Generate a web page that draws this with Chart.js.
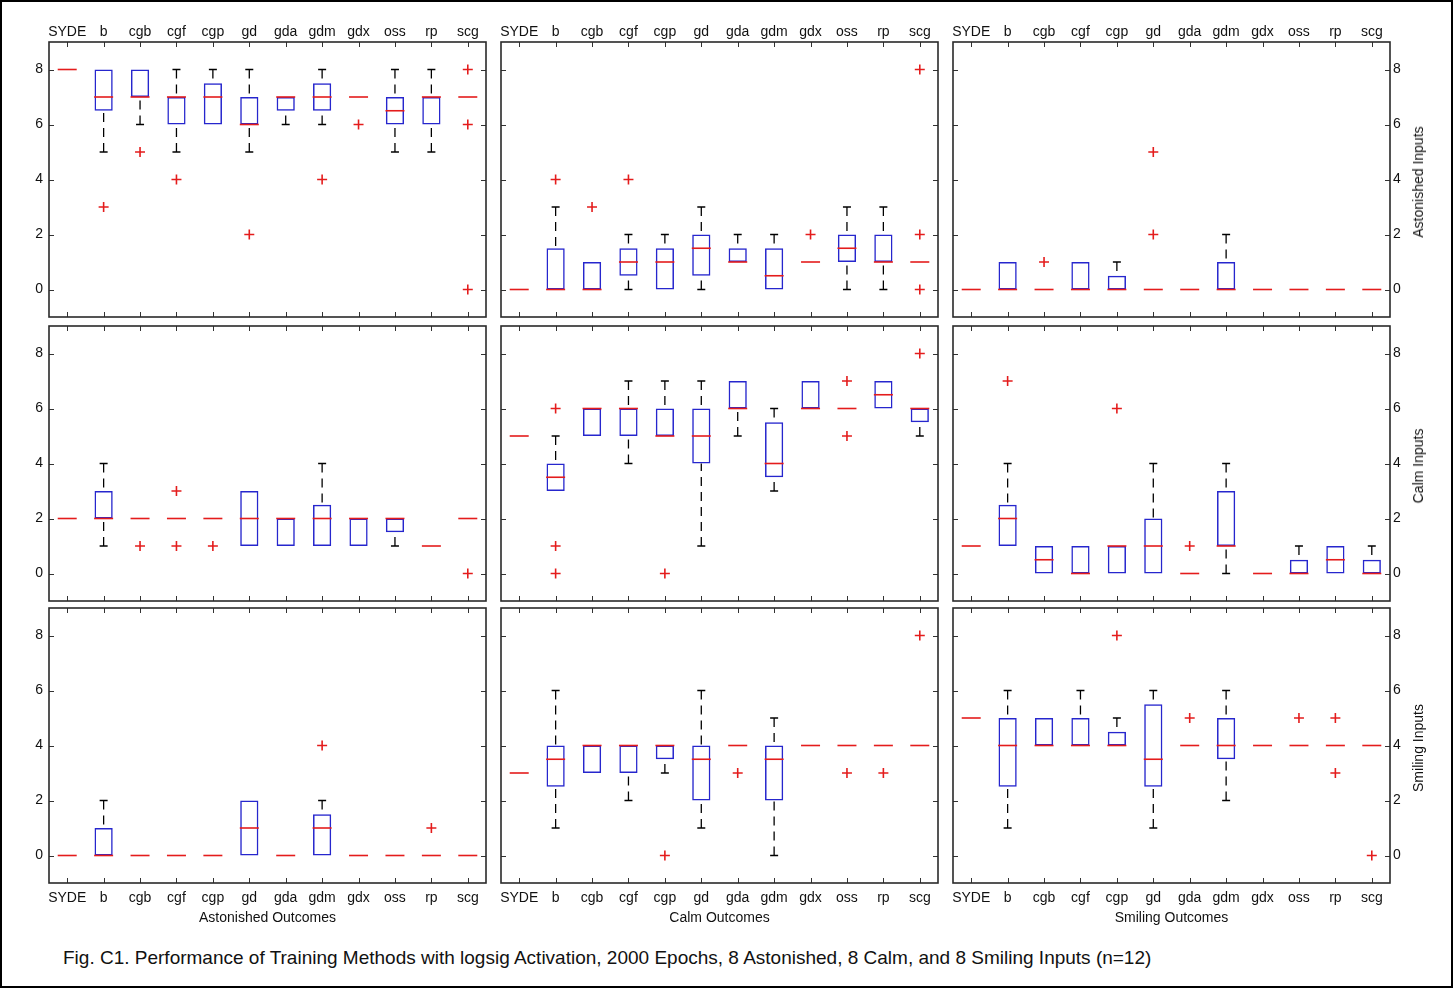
<!DOCTYPE html>
<html>
<head>
<meta charset="utf-8">
<script src="https://cdn.jsdelivr.net/npm/chart.js@4.4.1/dist/chart.umd.min.js"></script>
<style>
  html, body { margin: 0; padding: 0; background: #fff; }
  #fig { position: relative; width: 1453px; height: 988px; overflow: hidden; background: #fff;
         font-family: "Liberation Sans", Arial, sans-serif; }
  #frame { position: absolute; left: 0; top: 0; width: 1453px; height: 988px; box-sizing: border-box;
           border: 2px solid #000; pointer-events: none; }
  canvas { position: absolute; }
  .ytitle { position: absolute; transform: translate(-50%, -50%) rotate(-90deg); white-space: nowrap;
            font-size: 14px; color: #111; }
  #caption { position: absolute; left: 63px; top: 947px; font-size: 19px; color: #111; white-space: nowrap; }
</style>
</head>
<body>
<div id="fig">
  <div id="caption">Fig. C1. Performance of Training Methods with logsig Activation, 2000 Epochs, 8 Astonished, 8 Calm, and 8 Smiling Inputs (n=12)</div>
  <div id="frame"></div>
</div>
<script>
// training methods (x categories) and y tick values
const methods = ['SYDE', 'b', 'cgb', 'cgf', 'cgp', 'gd', 'gda', 'gdm', 'gdx', 'oss', 'rp', 'scg'];
const yTicks = [0, 2, 4, 6, 8];
const inputNames = ['Astonished Inputs', 'Calm Inputs', 'Smiling Inputs'];
const outcomeNames = ['Astonished Outcomes', 'Calm Outcomes', 'Smiling Outcomes'];

// box stats per method: [lower whisker, q1, median, q3, upper whisker]
// row 1 - astonished inputs
const astAstBox = [[8,8,8,8,8],[5,6.5,7,8,8],[6,7,7,8,8],[5,6,7,7,8],[6,6,7,7.5,8],[5,6,6,7,8],
                   [6,6.5,7,7,7],[6,6.5,7,7.5,8],[7,7,7,7,7],[5,6,6.5,7,8],[5,6,7,7,8],[7,7,7,7,7]];
const astAstOut = [[],[3],[5],[4],[],[2],[],[4],[6],[],[],[8,6,0]];
const astCalmBox = [[0,0,0,0,0],[0,0,0,1.5,3],[0,0,0,1,1],[0,0.5,1,1.5,2],[0,0,1,1.5,2],[0,0.5,1.5,2,3],
                    [1,1,1,1.5,2],[0,0,0.5,1.5,2],[1,1,1,1,1],[0,1,1.5,2,3],[0,1,1,2,3],[1,1,1,1,1]];
const astCalmOut = [[],[4],[3],[4],[],[],[],[],[2],[],[],[8,2,0]];
const astSmileBox = [[0,0,0,0,0],[0,0,0,1,1],[0,0,0,0,0],[0,0,0,1,1],[0,0,0,0.5,1],[0,0,0,0,0],
                     [0,0,0,0,0],[0,0,0,1,2],[0,0,0,0,0],[0,0,0,0,0],[0,0,0,0,0],[0,0,0,0,0]];
const astSmileOut = [[],[],[1],[],[],[5,2],[],[],[],[],[],[]];

// row 2 - calm inputs
const calmAstBox = [[2,2,2,2,2],[1,2,2,3,4],[2,2,2,2,2],[2,2,2,2,2],[2,2,2,2,2],[1,1,2,3,3],
                    [1,1,2,2,2],[1,1,2,2.5,4],[1,1,2,2,2],[1,1.5,2,2,2],[1,1,1,1,1],[2,2,2,2,2]];
const calmAstOut = [[],[],[1],[3,1],[1],[],[],[],[],[],[],[0]];
const calmCalmBox = [[5,5,5,5,5],[3,3,3.5,4,5],[5,5,6,6,6],[4,5,6,6,7],[5,5,5,6,7],[1,4,5,6,7],
                     [5,6,6,7,7],[3,3.5,4,5.5,6],[6,6,6,7,7],[6,6,6,6,6],[6,6,6.5,7,7],[5,5.5,6,6,6]];
const calmCalmOut = [[],[6,1,0],[],[],[0],[],[],[],[],[7,5],[],[8]];
const calmSmileBox = [[1,1,1,1,1],[1,1,2,2.5,4],[0,0,0.5,1,1],[0,0,0,1,1],[0,0,1,1,1],[0,0,1,2,4],
                      [0,0,0,0,0],[0,1,1,3,4],[0,0,0,0,0],[0,0,0,0.5,1],[0,0,0.5,1,1],[0,0,0,0.5,1]];
const calmSmileOut = [[],[7],[],[],[6],[],[1],[],[],[],[],[]];

// row 3 - smiling inputs
const smileAstBox = [[0,0,0,0,0],[0,0,0,1,2],[0,0,0,0,0],[0,0,0,0,0],[0,0,0,0,0],[0,0,1,2,2],
                     [0,0,0,0,0],[0,0,1,1.5,2],[0,0,0,0,0],[0,0,0,0,0],[0,0,0,0,0],[0,0,0,0,0]];
const smileAstOut = [[],[],[],[],[],[],[],[4],[],[],[1],[]];
const smileCalmBox = [[3,3,3,3,3],[1,2.5,3.5,4,6],[3,3,4,4,4],[2,3,4,4,4],[3,3.5,4,4,4],[1,2,3.5,4,6],
                      [4,4,4,4,4],[0,2,3.5,4,5],[4,4,4,4,4],[4,4,4,4,4],[4,4,4,4,4],[4,4,4,4,4]];
const smileCalmOut = [[],[],[],[],[0],[],[3],[],[],[3],[3],[8]];
const smileSmileBox = [[5,5,5,5,5],[1,2.5,4,5,6],[4,4,4,5,5],[4,4,4,5,6],[4,4,4,4.5,5],[1,2.5,3.5,5.5,6],
                       [4,4,4,4,4],[2,3.5,4,5,6],[4,4,4,4,4],[4,4,4,4,4],[4,4,4,4,4],[4,4,4,4,4]];
const smileSmileOut = [[],[],[],[],[8],[],[5],[],[],[5],[5,3],[0]];

const panels = [
  [[astAstBox, astAstOut], [astCalmBox, astCalmOut], [astSmileBox, astSmileOut]],
  [[calmAstBox, calmAstOut], [calmCalmBox, calmCalmOut], [calmSmileBox, calmSmileOut]],
  [[smileAstBox, smileAstOut], [smileCalmBox, smileCalmOut], [smileSmileBox, smileSmileOut]]
];

// layout
const colX = [49, 501, 953];
const rowY = [42, 326, 608];
const plotW = 437, plotH = 275, pad = 50;
const FONT = '"Liberation Sans", Arial, sans-serif';
const BLUE = 'rgb(38,38,205)', RED = 'rgb(228,28,28)', INK = '#111';

const fig = document.getElementById('fig');

// MATLAB style frame with inward ticks
const frameTicks = {
  id: 'frameTicks',
  afterDatasetsDraw(chart) {
    const ctx = chart.ctx, a = chart.chartArea, x = chart.scales.x, y = chart.scales.y;
    ctx.save();
    ctx.strokeStyle = '#333';
    ctx.lineWidth = 1;
    ctx.beginPath();
    methods.forEach((m, i) => {
      const px = Math.round(x.getPixelForTick(i)) + 0.5;
      ctx.moveTo(px, a.top); ctx.lineTo(px, a.top + 5);
      ctx.moveTo(px, a.bottom); ctx.lineTo(px, a.bottom - 5);
    });
    yTicks.forEach(v => {
      const py = Math.round(y.getPixelForValue(v)) + 0.5;
      ctx.moveTo(a.left, py); ctx.lineTo(a.left + 5, py);
      ctx.moveTo(a.right, py); ctx.lineTo(a.right - 5, py);
    });
    ctx.stroke();
    ctx.lineWidth = 1.6;
    ctx.strokeStyle = '#2a2a2a';
    ctx.strokeRect(a.left, a.top, a.right - a.left, a.bottom - a.top);
    ctx.restore();
  }
};

function makePanel(row, col) {
  const box = panels[row][col][0];
  const outl = panels[row][col][1];
  const showLeft = col === 0, showRight = col === 2, showTop = row === 0, showBot = row === 2;
  const yLeftW = 36, yRightW = 22, xTopH = 26, xBotH = 44;

  const cv = document.createElement('canvas');
  cv.width = plotW + 2 * pad;
  cv.height = plotH + 2 * pad;
  cv.style.left = (colX[col] - pad) + 'px';
  cv.style.top = (rowY[row] - pad) + 'px';
  fig.insertBefore(cv, document.getElementById('frame'));

  const boxes = box.map(s => s[3] > s[1] ? [s[1], s[3]] : null);
  const medians = box.map(s => s[2]);
  const hiCaps = box.map(s => s[4] > s[3] ? s[4] : null);
  const loCaps = box.map(s => s[0] < s[1] ? s[0] : null);
  const whisk = [];
  box.forEach((s, i) => {
    const c = methods[i];
    if (s[4] > s[3]) whisk.push({x: c, y: s[4]}, {x: c, y: s[3]}, {x: c, y: null});
    if (s[0] < s[1]) whisk.push({x: c, y: s[0]}, {x: c, y: s[1]}, {x: c, y: null});
  });
  const outPts = [];
  outl.forEach((arr, i) => arr.forEach(v => outPts.push({x: methods[i], y: v})));

  new Chart(cv.getContext('2d'), {
    type: 'bar',
    data: {
      labels: methods,
      datasets: [
        { type: 'line', data: medians, showLine: false, pointStyle: 'line', pointRadius: 9.5,
          pointBorderColor: RED, pointBorderWidth: 1.6, order: 0 },
        { type: 'line', data: outPts, showLine: false, pointStyle: 'cross', pointRadius: 5,
          pointBorderColor: RED, pointBorderWidth: 1.6, order: 1 },
        { type: 'line', data: hiCaps, showLine: false, pointStyle: 'line', pointRadius: 4,
          pointBorderColor: '#000', pointBorderWidth: 1.6, order: 2 },
        { type: 'line', data: loCaps, showLine: false, pointStyle: 'line', pointRadius: 4,
          pointBorderColor: '#000', pointBorderWidth: 1.6, order: 2 },
        { type: 'line', data: whisk, borderColor: '#000', borderWidth: 1.3, borderDash: [9, 6],
          pointRadius: 0, spanGaps: false, order: 3 },
        { type: 'bar', data: boxes, backgroundColor: 'rgba(0,0,0,0)', borderColor: BLUE,
          borderWidth: 1.5, borderSkipped: false, barPercentage: 0.5, categoryPercentage: 1, order: 4 }
      ]
    },
    options: {
      responsive: false,
      animation: false,
      events: [],
      layout: {
        padding: {
          left: pad - (showLeft ? yLeftW : 0),
          right: pad - (showRight ? yRightW : 0),
          top: pad - (showTop ? xTopH : 0),
          bottom: pad - (showBot ? xBotH : 0)
        }
      },
      plugins: { legend: { display: false }, tooltip: { enabled: false } },
      scales: {
        x: {
          type: 'category',
          offset: true,
          position: showBot ? 'bottom' : 'top',
          display: showTop || showBot,
          grid: { display: false, drawTicks: false },
          border: { display: false },
          ticks: { color: INK, font: { family: FONT, size: 14 }, padding: showTop ? 1 : 7,
                   maxRotation: 0, autoSkip: false },
          title: { display: showBot, text: outcomeNames[col], color: INK,
                   font: { family: FONT, size: 14 }, padding: { top: 0, bottom: 0 } },
          afterFit: s => { if (showTop || showBot) s.height = showTop ? xTopH : xBotH; }
        },
        y: {
          min: -1,
          max: 9,
          position: showRight ? 'right' : 'left',
          display: showLeft || showRight,
          afterBuildTicks: s => { s.ticks = yTicks.map(v => ({ value: v })); },
          grid: { display: false, drawTicks: false },
          border: { display: false },
          ticks: { color: INK, font: { family: FONT, size: 14 }, padding: showRight ? 3 : 6 },
          afterFit: s => { if (showLeft || showRight) s.width = showRight ? yRightW : yLeftW; }
        }
      }
    },
    plugins: [frameTicks]
  });
}

for (let r = 0; r < 3; r++) {
  for (let c = 0; c < 3; c++) makePanel(r, c);
  const t = document.createElement('div');
  t.className = 'ytitle';
  t.textContent = inputNames[r];
  t.style.left = '1418px';
  t.style.top = (rowY[r] + plotH / 2 + 2) + 'px';
  fig.insertBefore(t, document.getElementById('frame'));
}
</script>
</body>
</html>
